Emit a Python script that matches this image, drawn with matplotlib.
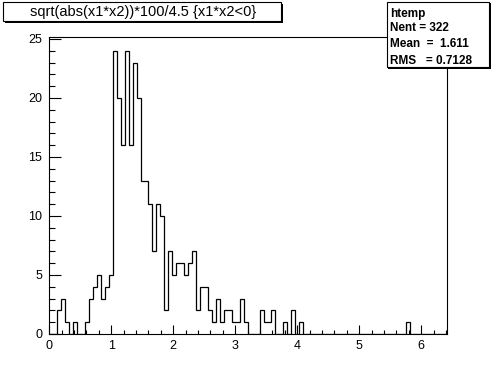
import numpy as np
import matplotlib
matplotlib.use("Agg")
import matplotlib.pyplot as plt
from matplotlib.patches import Rectangle

# ---- data ----
x_min, x_max, n_bins = 0.0, 6.4, 100
counts = [
    0, 0, 2, 3, 1, 0, 1, 0, 0, 1,
    3, 4, 5, 3, 4, 5, 24, 20, 16, 24,
    16, 23, 20, 13, 13, 11, 7, 11, 10, 2,
    7, 5, 6, 6, 5, 6, 7, 2, 4, 4,
    2, 1, 3, 1, 2, 2, 1, 1, 3, 1,
    0, 0, 0, 2, 1, 1, 2, 0, 0, 1,
    0, 2, 0, 1, 0, 0, 0, 0, 0, 0,
    0, 0, 0, 0, 0, 0, 0, 0, 0, 0,
    0, 0, 0, 0, 0, 0, 0, 0, 0, 0,
    1, 0, 0, 0, 0, 0, 0, 0, 0, 0,
]
title_text = "sqrt(abs(x1*x2))*100/4.5 {x1*x2<0}"
stats_name = "htemp"
stats_lines = ["Nent = 322", "Mean  =  1.611", "RMS   = 0.7128"]
x_ticks = [0, 1, 2, 3, 4, 5, 6]
y_ticks = [0, 5, 10, 15, 20, 25]

W, H = 496, 372
fig = plt.figure(figsize=(W / 100, H / 100), dpi=100)
fig.patch.set_facecolor("white")

def fx(px):
    return px / W

def fy(py):
    return 1 - py / H

left, right, top, bottom = 49.3, 446.7, 36.6, 334.0
ax = fig.add_axes([fx(left), fy(bottom), fx(right) - fx(left), fy(top) - fy(bottom)])

edges = np.linspace(x_min, x_max, n_bins + 1)
ax.stairs(counts, edges, baseline=0, color="black", linewidth=0.9)

ax.set_xlim(x_min, x_max + 0.01)
ax.set_ylim(0, 1.05 * max(counts))

lw = 0.8
for s in ax.spines.values():
    s.set_linewidth(lw)
    s.set_color("black")

font = "Liberation Sans"
ax.set_xticks(x_ticks)
ax.set_xticks(np.arange(0, 6.41, 0.2), minor=True)
ax.set_yticks(y_ticks)
ax.set_yticks(np.arange(0, 25.1, 1), minor=True)
ax.set_xticklabels([str(v) for v in x_ticks], fontsize=9, family=font)
ax.set_yticklabels([str(v) for v in y_ticks], fontsize=9, family=font)
ax.tick_params(axis="x", which="major", direction="in", length=6.5, width=lw, pad=4)
ax.tick_params(axis="x", which="minor", direction="in", length=3.2, width=lw)
ax.tick_params(axis="y", which="major", direction="in", length=8.6, width=lw, pad=5)
ax.tick_params(axis="y", which="minor", direction="in", length=4.3, width=lw)
ax.tick_params(top=False, right=False, which="both")

def pbox(x0, y0, x1, y1, shadow=1.5):
    fig.patches.append(Rectangle((fx(x0 + shadow), fy(y1 + shadow)), fx(x1 - x0), fy(y0) - fy(y1),
                                 transform=fig.transFigure, facecolor="black", edgecolor="black",
                                 linewidth=0, zorder=5))
    fig.patches.append(Rectangle((fx(x0), fy(y1)), fx(x1 - x0), fy(y0) - fy(y1),
                                 transform=fig.transFigure, facecolor="white", edgecolor="black",
                                 linewidth=lw, zorder=6))

# title box
pbox(3, 2, 281, 21)
fig.text(fx(143), fy(12), title_text, ha="center", va="center", fontsize=10.5, family=font, zorder=7)

# stats box
pbox(386.5, 2, 489, 67)
fig.text(fx(390), fy(13.5), stats_name, ha="left", va="center", fontsize=8.5, family=font,
         weight="bold", zorder=7)
for i, line in enumerate(stats_lines):
    fig.text(fx(390), fy(28 + i * 16.3), line, ha="left", va="center", fontsize=8.5, family=font,
             weight="bold", zorder=7)

fig.savefig("out.png", dpi=100)
